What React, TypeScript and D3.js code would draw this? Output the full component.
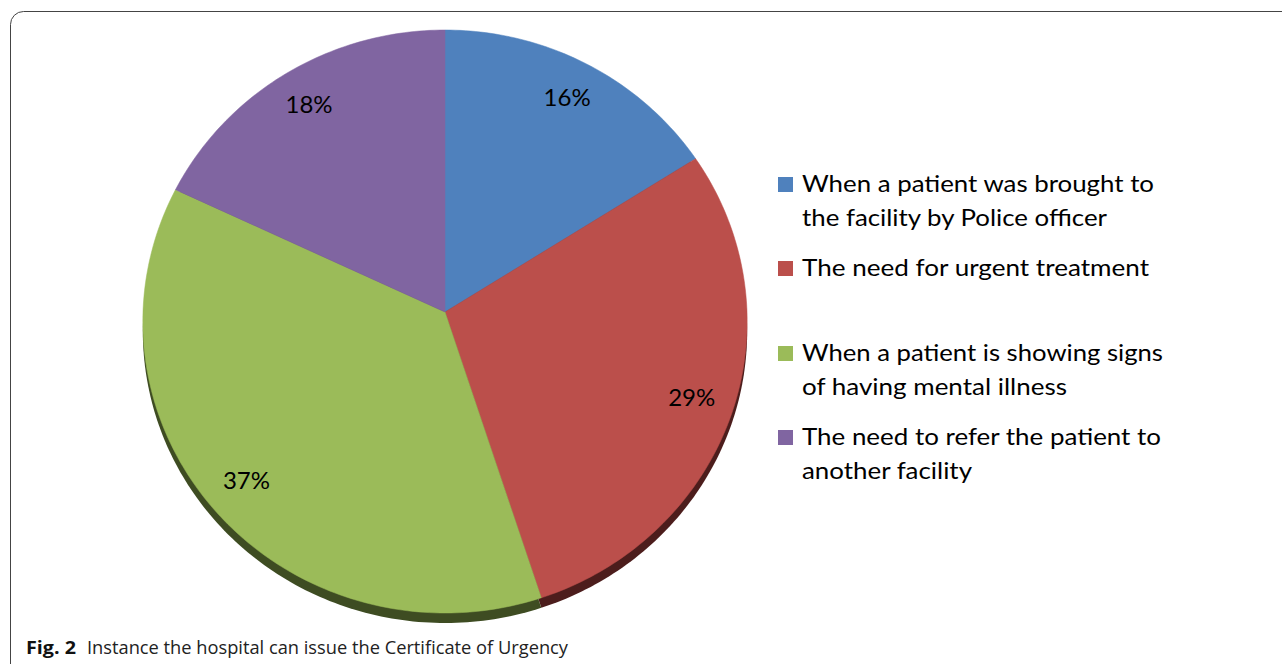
import React from "react";
import * as d3 from "d3";

const categories = [
  "When a patient was brought to the facility by Police officer",
  "The need for urgent treatment",
  "When a patient is showing signs of having mental illness",
  "The need to refer the patient to another facility",
];
const values = [16, 29, 37, 18];
const valueLabels = ["16%", "29%", "37%", "18%"];
const legendLines = [
  ["When a patient was brought to", "the facility by Police officer"],
  ["The need for urgent treatment"],
  ["When a patient is showing signs", "of having mental illness"],
  ["The need to refer the patient to", "another facility"],
];
const legendWidths = [
  [352, 305],
  [347],
  [361, 265],
  [359, 170],
];
const faceColors = ["#4f81bd", "#bb4f4b", "#9bbb59", "#8065a1"];
const sideColors = ["#26405e", "#4c1d1c", "#3e4c22", "#3e3050"];
const captionBold = "Fig. 2";
const captionText = "Instance the hospital can issue the Certificate of Urgency";

const W = 1282;
const H = 664;
const cx = 445;
const cy = 312;
const sx = 302;
const sy = 291.2;
const k = 0.0326;
const depth = 10;

function project(a: number, r: number): [number, number] {
  const x = r * Math.sin(a);
  const y = -r * Math.cos(a);
  const d = 1 - k * y;
  return [cx + (sx * x) / d, cy + (sy * y) / d];
}

export default function App() {
  const pie = d3.pie<number>().sort(null).value((d) => d);
  const arcs = pie(values);
  const line = d3.line<[number, number]>().curve(d3.curveLinear);

  const slicePath = (start: number, end: number, dy: number) => {
    const n = Math.max(8, Math.ceil(((end - start) / (2 * Math.PI)) * 360));
    const pts: [number, number][] = [[cx, cy + dy]];
    for (let i = 0; i <= n; i++) {
      const a = start + ((end - start) * i) / n;
      const p = project(a, 1);
      pts.push([p[0], p[1] + dy]);
    }
    return line(pts) + "Z";
  };

  const legendTop = [192, 276, 361, 445];
  const lineGap = 34;

  return (
    <svg
      width={W}
      height={H}
      style={{ position: "absolute", left: 0, top: 0, background: "#fff" }}
    >
      <rect x={0} y={0} width={W} height={H} fill="#fff" />
      <rect
        x={10.5}
        y={11.5}
        width={W + 20}
        height={H + 20}
        rx={13}
        ry={13}
        fill="none"
        stroke="#444"
        strokeWidth={1}
      />
      <g>
        {arcs.map((a, i) => (
          <path
            key={"side" + i}
            d={slicePath(a.startAngle, a.endAngle, depth)}
            fill={sideColors[i]}
          />
        ))}
        {arcs.map((a, i) => (
          <path
            key={"face" + i}
            d={slicePath(a.startAngle, a.endAngle, 0)}
            fill={faceColors[i]}
            stroke={faceColors[i]}
            strokeWidth={0.5}
          />
        ))}
        {arcs.map((a, i) => {
          const mid = (a.startAngle + a.endAngle) / 2;
          const p = project(mid, 0.86);
          return (
            <text
              key={"lbl" + i}
              x={p[0]}
              y={p[1] + 8}
              textAnchor="middle"
              fontFamily="Lato, 'Open Sans', sans-serif"
              fontSize={24}
              fill="#000"
            >
              {valueLabels[i]}
            </text>
          );
        })}
      </g>
      <g>
        {categories.map((c, i) => (
          <g key={"leg" + i}>
            <rect
              x={778}
              y={legendTop[i] - 15}
              width={15}
              height={15}
              fill={faceColors[i]}
            />
            {legendLines[i].map((t, j) => (
              <text
                key={j}
                x={802}
                y={legendTop[i] + j * lineGap}
                fontFamily="Lato, 'Open Sans', sans-serif"
                fontSize={24}
                fill="#000"
                textLength={legendWidths[i][j]}
                lengthAdjust="spacingAndGlyphs"
              >
                {t}
              </text>
            ))}
          </g>
        ))}
      </g>
      <text
        x={26}
        y={654}
        fontFamily="'Open Sans', Lato, sans-serif"
        fontWeight="bold"
        fontSize={18}
        fill="#111"
        textLength={50}
        lengthAdjust="spacingAndGlyphs"
      >
        {captionBold}
      </text>
      <text
        x={87}
        y={654}
        fontFamily="'Open Sans', Lato, sans-serif"
        fontSize={18}
        fill="#222"
        textLength={481}
        lengthAdjust="spacingAndGlyphs"
      >
        {captionText}
      </text>
    </svg>
  );
}
